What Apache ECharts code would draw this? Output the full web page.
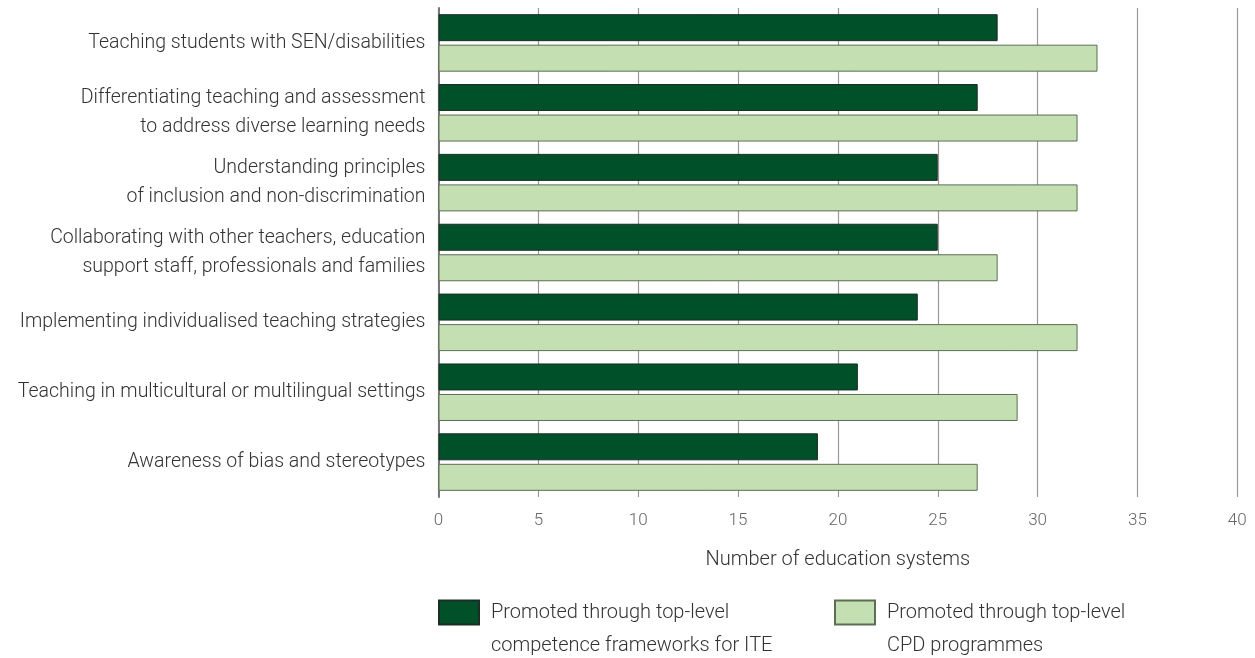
<!DOCTYPE html>
<html><head><meta charset="utf-8">
<script src="https://cdn.jsdelivr.net/npm/echarts@6/dist/echarts.min.js"></script>
<style>html,body{margin:0;padding:0;background:#fff}#c{width:1255px;height:658px}</style>
</head><body><div id="c"></div>
<script>
const categories = [
  "Teaching students with SEN/disabilities",
  "Differentiating teaching and assessment\nto address diverse learning needs",
  "Understanding principles\nof inclusion and non-discrimination",
  "Collaborating with other teachers, education\nsupport staff, professionals and families",
  "Implementing individualised teaching strategies",
  "Teaching in multicultural or multilingual settings",
  "Awareness of bias and stereotypes"
];
const iteValues = [28, 27, 25, 25, 24, 21, 19];
const cpdValues = [33, 32, 32, 28, 32, 29, 27];
const seriesNames = [
  "Promoted through top-level\ncompetence frameworks for ITE",
  "Promoted through top-level\nCPD programmes"
];
const xTicks = {min: 0, max: 40, interval: 5};
const axisTitle = "Number of education systems";

const FONT = "Roboto, 'Open Sans', sans-serif";
const chart = echarts.init(document.getElementById('c'));
chart.setOption({
  animation: false,
  textStyle: {fontFamily: FONT, fontWeight: 300},
  grid: {left: 438.5, right: 17.7, top: 8, bottom: 161, containLabel: false, outerBoundsMode: 'none'},
  legend: {
    left: 438, top: 563, padding: 0,
    itemWidth: 40, itemHeight: 24, itemGap: 8,
    icon: 'rect',
    data: seriesNames,
    formatter: function (name) {
      return '\n' + name.split('\n').map(function (s) { return '{a|' + s + '}'; }).join('\n');
    },
    textStyle: {
      fontFamily: FONT, fontWeight: 300, fontSize: 20, color: '#333', lineHeight: 33,
      rich: {a: {fontFamily: FONT, fontWeight: 300, fontSize: 20, color: '#333', lineHeight: 33, padding: [0, 0, 0, 7], width: 335}}
    }
  },
  xAxis: {
    type: 'value', min: xTicks.min, max: xTicks.max, interval: xTicks.interval,
    name: axisTitle, nameLocation: 'middle', nameGap: 53,
    nameTextStyle: {fontFamily: FONT, fontWeight: 300, fontSize: 20, color: '#333'},
    axisLine: {show: false}, axisTick: {show: false},
    axisLabel: {fontFamily: FONT, fontWeight: 300, fontSize: 17, color: '#666', margin: 15},
    splitLine: {show: true, lineStyle: {color: '#999', width: 1.2}}
  },
  yAxis: {
    type: 'category', data: categories, inverse: true,
    axisLine: {show: true, lineStyle: {color: '#777', width: 2}},
    axisTick: {show: false},
    axisLabel: {fontFamily: FONT, fontWeight: 300, fontSize: 19.5, color: '#333', lineHeight: 29, margin: 13, align: 'right', padding: [4, 0, 0, 0]}
  },
  series: [
    {name: seriesNames[0], type: 'bar', data: iteValues, barWidth: 27, barGap: '13%',
     itemStyle: {color: '#00502a', borderColor: '#1c2e22', borderWidth: 1}},
    {name: seriesNames[1], type: 'bar', data: cpdValues, barWidth: 27,
     itemStyle: {color: '#c4dfb2', borderColor: '#5d6e55', borderWidth: 1}}
  ]
});
</script></body></html>
